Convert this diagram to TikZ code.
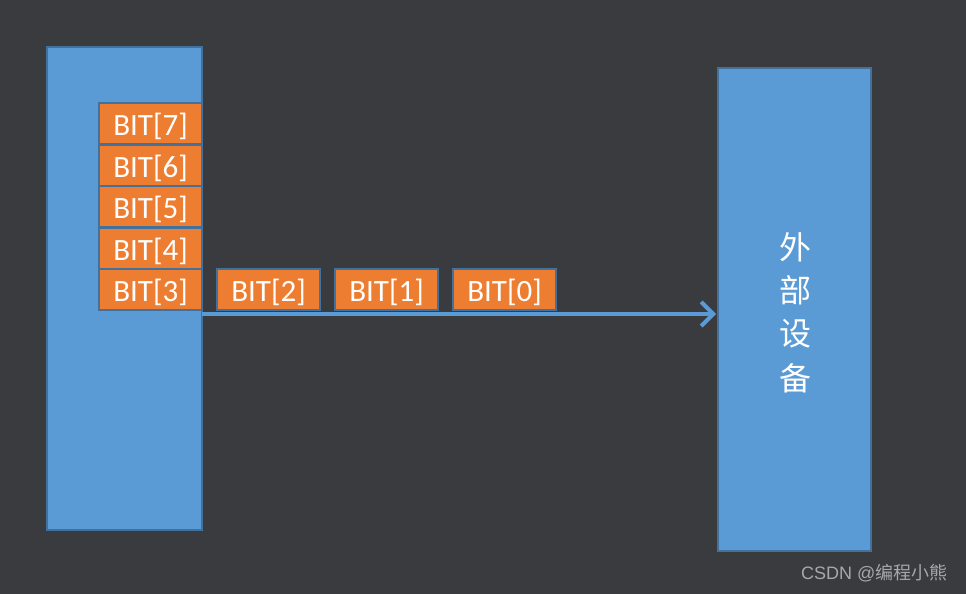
\documentclass[tikz,border=0pt]{standalone}
\usepackage{fontspec}
\setmainfont{Carlito}
\newfontfamily\cjk{Noto Sans CJK SC}
\newfontfamily\wm{Liberation Sans}
\usetikzlibrary{arrows.meta}
\definecolor{bg}{HTML}{3A3B3F}
\definecolor{boxblue}{HTML}{5B9BD5}
\definecolor{edgeblue}{HTML}{41719C}
\definecolor{bitorange}{HTML}{ED7D31}
\definecolor{wmgray}{HTML}{A8A8A8}
\begin{document}
\begin{tikzpicture}[x=1pt,y=-1pt,
  bigbox/.style={draw=edgeblue,fill=boxblue,line width=1.5pt},
  bitbox/.style={draw=edgeblue,fill=bitorange,line width=1.5pt},
  bittext/.style={text=white,font=\fontsize{31}{31}\selectfont},
  flow/.style={draw=boxblue,line width=4.5pt,-{Straight Barb[length=12pt,width=24pt,line width=4pt]}}]
\fill[bg] (0,0) rectangle (966,594);
\useasboundingbox (0,0) rectangle (966,594);
\draw[bigbox] (47,47) rectangle (202,530);
\draw[bigbox] (718,68) rectangle (871,551);
\node[coordinate] (src) at (202,314) {};
\node[coordinate] (dst) at (716,314) {};
\foreach \y/\n in {103/7,145/6,186/5,228/4,269/3}{
  \draw[bitbox] (99,\y) rectangle ++(103,41);
  \node[bittext] (b\n) at (150.5,\y+23) {BIT[\n]};
}
\foreach \x/\n in {217/2,335/1,453/0}{
  \draw[bitbox] (\x,269) rectangle ++(103,41);
  \node[bittext] (b\n) at (\x+51.5,292) {BIT[\n]};
}
\draw[flow] (src) -- (dst);
\foreach \y/\c [count=\i] in {247/外,290/部,334/设,378/备}{
  \node[text=white,font=\cjk\fontsize{32}{32}\selectfont] (dev\i) at (795,\y) {\c};
}
\node[text=wmgray,font=\fontsize{18}{18}\selectfont,anchor=east] (wmark) at (951,573) {\wm CSDN @\cjk 编程小熊};
\end{tikzpicture}
\end{document}
